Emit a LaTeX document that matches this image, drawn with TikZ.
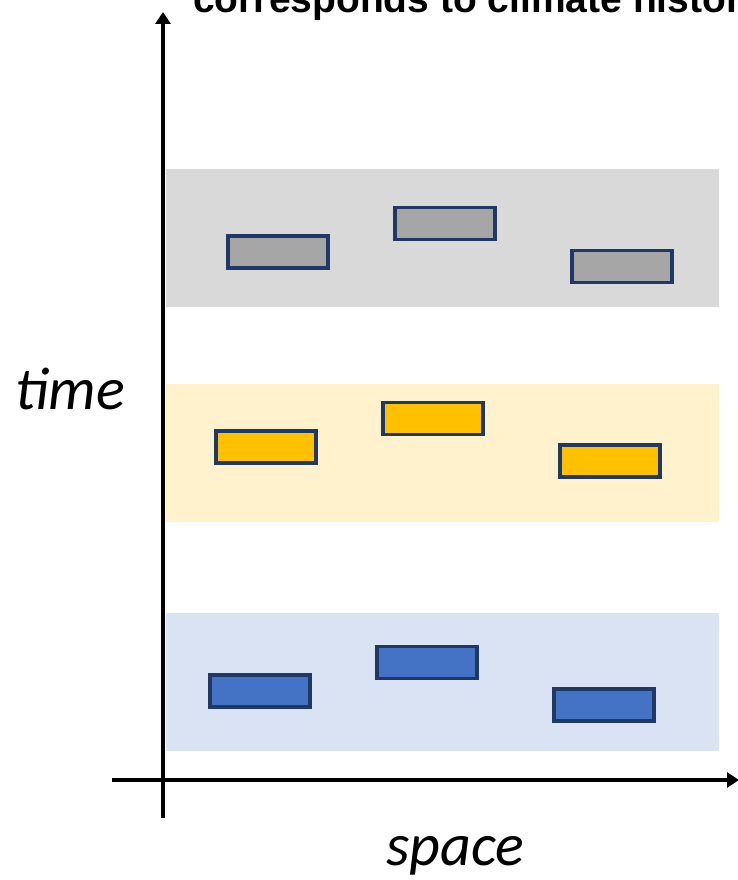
\documentclass[tikz,border=0pt]{standalone}
\usepackage{fontspec}
\setmainfont{Liberation Sans}
\newfontfamily\calfont{Carlito}
\usetikzlibrary{arrows.meta}
\definecolor{bandgray}{HTML}{D9D9D9}
\definecolor{bandyellow}{HTML}{FFF2CC}
\definecolor{bandblue}{HTML}{DAE3F3}
\definecolor{boxgray}{HTML}{A6A6A6}
\definecolor{boxyellow}{HTML}{FFC000}
\definecolor{boxblue}{HTML}{4472C4}
\definecolor{boxedge}{HTML}{1F3864}
\tikzset{
  band/.style={draw=none, minimum width=553pt, minimum height=138pt, inner sep=0pt, anchor=north west},
  datbox/.style={draw=boxedge, line width=3.2pt, minimum width=100pt, minimum height=32pt, inner sep=0pt, anchor=center},
  axisline/.style={line width=4.4pt, -{Triangle[length=12pt,width=15pt]}},
  axislabel/.style={font=\calfont\itshape\fontsize{60}{64}\selectfont, inner sep=0pt, anchor=base west},
}
\begin{document}
\begin{tikzpicture}[x=1pt,y=-1pt]
\useasboundingbox (0,0) rectangle (738,880);
\clip (0,0) rectangle (738,880);
% bands
\node[band, fill=bandgray] (b1) at (166,169) {};
\node[band, fill=bandyellow] (b2) at (166,384) {};
\node[band, fill=bandblue] (b3) at (166,613) {};
% gray boxes
\node[datbox, fill=boxgray] (g1) at (278,252) {};
\node[datbox, fill=boxgray] (g2) at (445,223.5) {};
\node[datbox, fill=boxgray] (g3) at (622,266.5) {};
% yellow boxes
\node[datbox, fill=boxyellow] (y1) at (266,447) {};
\node[datbox, fill=boxyellow] (y2) at (433,418.5) {};
\node[datbox, fill=boxyellow] (y3) at (610,461) {};
% blue boxes
\node[datbox, fill=boxblue] (u1) at (260,691) {};
\node[datbox, fill=boxblue] (u2) at (427,662.5) {};
\node[datbox, fill=boxblue] (u3) at (604,705) {};
% axes
\coordinate (vbot) at (163,818);
\coordinate (vtop) at (163,12);
\coordinate (hleft) at (112,780);
\coordinate (hright) at (739,780);
\draw[axisline] (vbot) -- (vtop);
\draw[axisline] (hleft) -- (hright);
% labels
\node[axislabel] (tlab) at (15,409) {time};
\node[axislabel] (slab) at (386,865) {space};
\node[font=\bfseries\fontsize{39}{43}\selectfont, inner sep=0pt, anchor=base west] (title) at (193,13) {corresponds to climate history};
\end{tikzpicture}
\end{document}
